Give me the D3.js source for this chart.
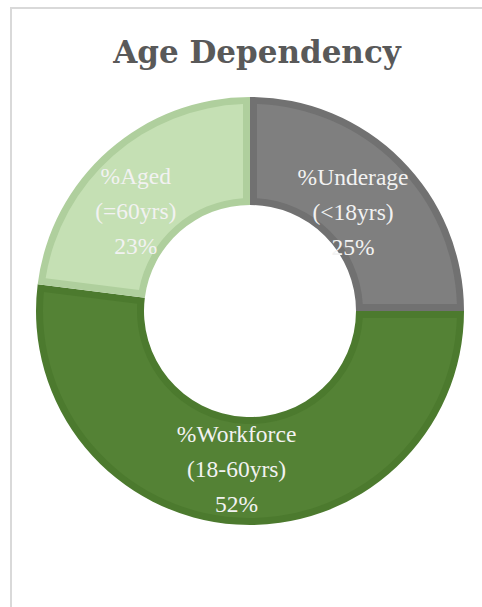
<!DOCTYPE html>
<html>
<head>
<meta charset="utf-8">
<script src="https://cdn.jsdelivr.net/npm/d3@7"></script>
<style>
  body { margin: 0; background: #fff; }
</style>
</head>
<body>
<div id="chart"></div>
<script>
// data
const groups = ["%Underage", "%Workforce", "%Aged"];
const ranges = ["(<18yrs)", "(18-60yrs)", "(=60yrs)"];
const shares = [25, 52, 23];
const fills = ["#7f7f7f", "#548235", "#c5e0b4"];
const edges = ["#717171", "#4c7a2e", "#afcf9d"];

const width = 482, height = 607;
const cx = 250, cy = 311;
const outerR = 214, innerR = 106, border = 7;

const svg = d3.select("#chart").append("svg")
    .attr("width", width).attr("height", height);

// chart frame (runs off the right and bottom)
svg.append("rect")
    .attr("x", 11).attr("y", 8)
    .attr("width", 500).attr("height", 640)
    .attr("fill", "#fff")
    .attr("stroke", "#d9d9d9")
    .attr("stroke-width", 2);

svg.append("text")
    .attr("x", 257).attr("y", 63)
    .attr("text-anchor", "middle")
    .style("font-family", "DejaVu Serif")
    .style("font-weight", "bold")
    .style("font-size", "31px")
    .attr("fill", "#595959")
    .text("Age Dependency");

const data = groups.map((g, i) => ({group: g, range: ranges[i], value: shares[i], i: i}));

const pie = d3.pie().sort(null).value(d => d.value);
const arcs = pie(data);

const outerArc = d3.arc().innerRadius(innerR).outerRadius(outerR);
// inner panel, inset by the border width on every side
const insetArc = d3.arc()
    .innerRadius(innerR + border)
    .outerRadius(outerR - border)
    .padRadius(100)
    .padAngle(2 * border / 100);

const g = svg.append("g").attr("transform", `translate(${cx},${cy})`);

g.selectAll("path.edge")
    .data(arcs)
    .join("path")
    .attr("class", "edge")
    .attr("d", outerArc)
    .attr("fill", d => edges[d.data.i]);

g.selectAll("path.fill")
    .data(arcs)
    .join("path")
    .attr("class", "fill")
    .attr("d", insetArc)
    .attr("fill", d => fills[d.data.i]);

// labels near the slice centroid, nudged the way the original sits
const labelArc = d3.arc().innerRadius(150).outerRadius(150);
const nudge = [[-3, 8], [-4, 9], [-15, 14]];

const labels = g.selectAll("text.lab")
    .data(arcs)
    .join("text")
    .attr("class", "lab")
    .attr("text-anchor", "middle")
    .style("font-family", "Liberation Serif")
    .style("font-size", "23.5px")
    .attr("fill", "#f2f2f2")
    .attr("transform", d => {
        const [x, y] = labelArc.centroid(d);
        const n = nudge[d.data.i];
        return `translate(${x + n[0]},${y + n[1]})`;
    });

labels.each(function(d) {
    const t = d3.select(this);
    const lines = [d.data.group, d.data.range, d.data.value + "%"];
    lines.forEach((s, k) => {
        t.append("tspan")
            .attr("x", 0)
            .attr("y", (k - 1) * 35 + 7)
            .text(s);
    });
});
</script>
</body>
</html>
